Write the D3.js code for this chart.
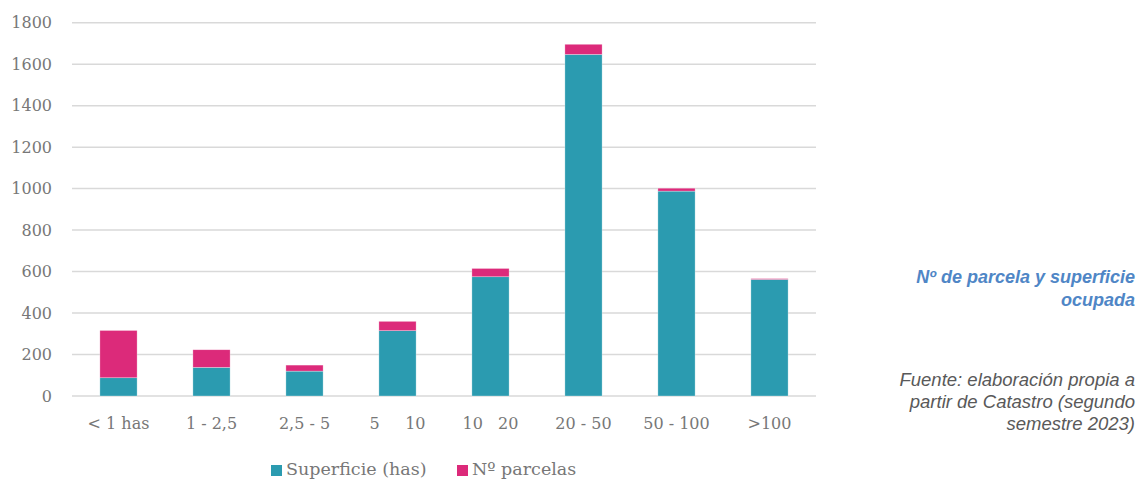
<!DOCTYPE html>
<html><head><meta charset="utf-8">
<script src="https://cdn.jsdelivr.net/npm/d3@7"></script>
<style>
body{margin:0;background:#fff;}
svg{display:block;}
</style></head>
<body><svg id="c" width="1137" height="480"></svg>
<script>
const categories = ["< 1 has", "1 - 2,5", "2,5 - 5", "5\u00a0\u00a0\u00a0\u00a0\u00a010", "10\u00a0\u00a0\u00a020", "20 - 50", "50 - 100", ">100"];
const superficie = [88, 138, 120, 315, 575, 1647, 988, 562];
const parcelas = [228, 85, 29, 45, 40, 49, 14, 4];
const yTicks = [0, 200, 400, 600, 800, 1000, 1200, 1400, 1600, 1800];
const seriesNames = ["Superficie (has)", "Nº parcelas"];
const colors = ["#2B9BB0", "#DC2A7A"];

(function () {
const svg = d3.select("#c");
const pLeft = 72, pRight = 816, pTop = 22.7, pBottom = 396;
const x = d3.scaleBand().domain(d3.range(categories.length)).range([pLeft, pRight]).paddingInner(0.6).paddingOuter(0.3);
const y = d3.scaleLinear().domain([0, 1800]).range([pBottom, pTop]);
const serif = "'DejaVu Serif', 'Liberation Serif', serif";
const textGray = "#777777";

// gridlines
svg.append("g").selectAll("line").data(yTicks).join("line")
  .attr("x1", pLeft).attr("x2", pRight)
  .attr("y1", d => y(d)).attr("y2", d => y(d))
  .attr("stroke", "#d9d9d9").attr("stroke-width", 1.5);

// y labels
svg.append("g").selectAll("text").data(yTicks).join("text")
  .attr("x", 52).attr("y", d => y(d) + 5.5)
  .attr("text-anchor", "end")
  .attr("font-family", serif).attr("font-size", 16).attr("fill", textGray)
  .text(d => d);

// stacked data
const data = categories.map((c, i) => ({i, s: superficie[i], p: parcelas[i]}));
const stack = d3.stack().keys(["s", "p"])(data);

svg.append("g").selectAll("g").data(stack).join("g")
  .attr("fill", (d, k) => colors[k])
  .selectAll("rect").data(d => d).join("rect")
  .attr("x", d => x(d.data.i))
  .attr("width", x.bandwidth())
  .attr("y", d => y(d[1]))
  .attr("height", d => y(d[0]) - y(d[1]))
  .attr("stroke", "#ffffff").attr("stroke-opacity", 0.5).attr("stroke-width", 0.6);

// x labels
svg.append("g").selectAll("text").data(categories).join("text")
  .attr("x", (d, i) => x(i) + x.bandwidth() / 2)
  .attr("y", 429)
  .attr("text-anchor", "middle")
  .attr("font-family", serif).attr("font-size", 16).attr("fill", textGray)
  .text(d => d);

// legend
const leg = svg.append("g");
const legX = [271, 457];
seriesNames.forEach((n, k) => {
  leg.append("rect").attr("x", legX[k]).attr("y", 465).attr("width", 11).attr("height", 11).attr("fill", colors[k]);
  leg.append("text").attr("x", legX[k] + 15).attr("y", 475)
    .attr("font-family", serif).attr("font-size", 17.5).attr("fill", textGray).text(n);
});

// side texts
const sans = "'Liberation Sans', 'Open Sans', sans-serif";
const t1 = svg.append("text").attr("text-anchor", "end").attr("font-family", sans)
  .attr("font-size", 18).attr("font-style", "italic").attr("font-weight", "bold").attr("fill", "#4F86C6");
t1.append("tspan").attr("x", 1135).attr("y", 283).text("Nº de parcela y superficie");
t1.append("tspan").attr("x", 1135).attr("y", 306).text("ocupada");

const t2 = svg.append("text").attr("text-anchor", "end").attr("font-family", sans)
  .attr("font-size", 18.5).attr("font-style", "italic").attr("fill", "#595959");
t2.append("tspan").attr("x", 1135).attr("y", 386).text("Fuente: elaboración propia a");
t2.append("tspan").attr("x", 1135).attr("y", 408).text("partir de Catastro (segundo");
t2.append("tspan").attr("x", 1135).attr("y", 430).text("semestre 2023)");
})();
</script></body></html>
